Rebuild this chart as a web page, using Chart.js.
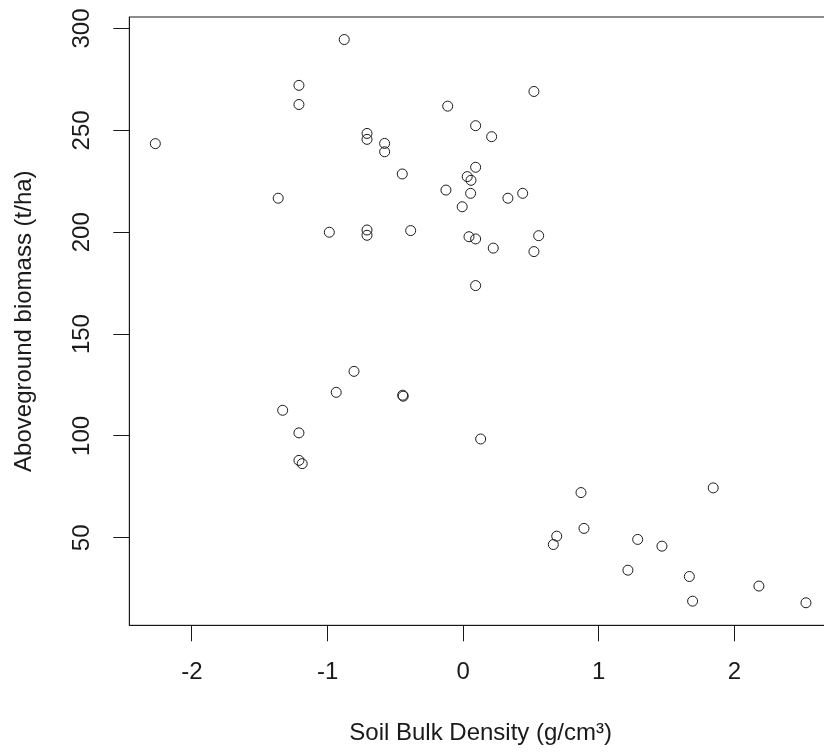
<!DOCTYPE html>
<html>
<head>
<meta charset="utf-8">
<script src="https://cdn.jsdelivr.net/npm/chart.js@4.4.0/dist/chart.umd.min.js"></script>
<style>
  html, body { margin: 0; padding: 0; background: #fff; overflow: hidden; }
  #wrap { width: 840px; height: 754px; }
</style>
</head>
<body>
<div id="wrap"><canvas id="scatter" width="840" height="754"></canvas></div>
<script>
// Soil bulk density (standardised) vs aboveground biomass
const bulkDensity = [-2.27, -0.877, -1.211, -1.211, -1.364, -0.114, -0.709, -0.709, -0.579, -0.579,
  -0.449, -0.127, -0.007, -0.987, -0.709, -0.709, -0.387, 0.522, 0.092, 0.21,
  0.092, 0.03, 0.058, 0.055, 0.33, 0.439, 0.043, 0.092, 0.222, 0.557,
  0.522, 0.092, -0.805, -0.936, -0.446, -0.442, -1.331, -1.211, -1.211, -1.187,
  0.129, 0.869, 1.844, 0.891, 0.69, 0.665, 1.287, 1.466, 1.215, 1.668,
  1.692, 2.181, 2.528];
const biomass = [243.5, 294.6, 272.1, 262.7, 216.7, 261.9, 248.5, 245.6, 243.6, 239.5,
  228.6, 220.7, 212.5, 200, 201.1, 198.5, 200.8, 269.1, 252.3, 246.9,
  231.9, 227.3, 225.5, 219.1, 216.7, 219.1, 197.8, 196.7, 192.2, 198.3,
  190.5, 173.8, 131.7, 121.4, 120.0, 119.5, 112.6, 101.5, 88.0, 86.4,
  98.5, 72.2, 74.5, 54.6, 50.8, 46.7, 49.2, 45.9, 34.1, 31.0,
  18.9, 26.3, 18.1];
const xTicks = [-2, -1, 0, 1, 2];
const yTicks = [50, 100, 150, 200, 250, 300];

const points = bulkDensity.map((x, i) => ({ x: x, y: biomass[i] }));
const font = { family: 'Liberation Sans, Arial, sans-serif', size: 24 };
const ink = '#1a1a1a';

// box round the plot region plus the upright y tick labels
const rBox = {
  id: 'rBox',
  afterDraw(chart) {
    const c = chart.ctx, a = chart.chartArea, ys = chart.scales.y;
    c.save();
    c.strokeStyle = ink;
    c.lineWidth = 1;
    c.strokeRect(a.left, a.top, a.right - a.left, a.bottom - a.top);
    c.fillStyle = ink;
    c.font = font.size + 'px ' + font.family;
    c.textAlign = 'center';
    c.textBaseline = 'middle';
    ys.ticks.forEach(t => {
      c.save();
      c.translate(82, ys.getPixelForValue(t.value));
      c.rotate(-Math.PI / 2);
      c.fillText(String(t.value), 0, 0);
      c.restore();
    });
    c.restore();
  }
};

new Chart(document.getElementById('scatter'), {
  type: 'scatter',
  data: {
    datasets: [{
      data: points,
      pointRadius: 5,
      pointHoverRadius: 5,
      pointBorderWidth: 1,
      pointBorderColor: ink,
      pointBackgroundColor: 'rgba(0,0,0,0)'
    }]
  },
  options: {
    responsive: false,
    animation: false,
    layout: { padding: { top: 17, right: 8, left: 0, bottom: 0 } },
    plugins: { legend: { display: false }, tooltip: { enabled: false } },
    scales: {
      x: {
        type: 'linear',
        min: -2.462,
        max: 2.72,
        afterBuildTicks: s => { s.ticks = xTicks.map(v => ({ value: v })); },
        afterFit: s => { s.height = 128.7; },
        grid: { drawOnChartArea: false, drawTicks: true, tickLength: 16, color: ink, lineWidth: 1 },
        border: { display: true, color: ink, width: 1 },
        ticks: { color: ink, font: font, padding: 17, maxRotation: 0, callback: v => String(v) },
        title: { display: true, text: 'Soil Bulk Density (g/cm³)', color: ink, font: font, padding: { top: 0, bottom: 6 } }
      },
      y: {
        type: 'linear',
        min: 7.04,
        max: 305.66,
        afterBuildTicks: s => { s.ticks = yTicks.map(v => ({ value: v })); },
        afterFit: s => { s.width = 129.3; },
        grid: { drawOnChartArea: false, drawTicks: true, tickLength: 16, color: ink, lineWidth: 1 },
        border: { display: true, color: ink, width: 1 },
        ticks: { display: false },
        title: { display: true, text: 'Aboveground biomass (t/ha)', color: ink, font: font, padding: { top: 10, bottom: 0 } }
      }
    }
  },
  plugins: [rBox]
});
</script>
</body>
</html>
